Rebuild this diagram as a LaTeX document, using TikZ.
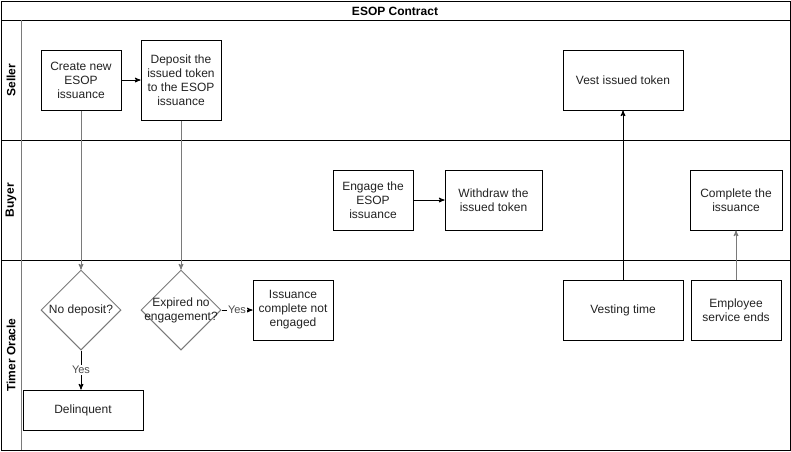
\documentclass[tikz,border=0pt]{standalone}
\usepackage{fontspec}
\setmainfont{Liberation Sans}
\usetikzlibrary{arrows}
\usetikzlibrary{shapes.geometric}
\definecolor{edgegray}{HTML}{7A7A7A}
\definecolor{textgray}{HTML}{222222}

\begin{document}
\begin{tikzpicture}[x=1pt, y=-1pt, line width=1pt,
  font=\fontsize{12}{14}\selectfont,
  stepbox/.style={draw=black, align=center, inner sep=0pt, text=textgray},
  decision/.style={draw=edgegray, diamond, aspect=1, minimum size=80, inner sep=0pt},
  flow/.style={->, >=stealth'},
  yeslabel/.style={fill=white, inner sep=1pt, font=\fontsize{11}{13}\selectfont, text=black!70}]
\useasboundingbox (0,0) rectangle (791,451);
% pool and lanes
\draw (1,1) rectangle (790,450);
\draw (1,20) -- (790,20);
\draw (1,140) -- (790,140);
\draw (1,260) -- (790,260);
\draw[edgegray] (21,20) -- (21,450);
\node[font=\bfseries\fontsize{12}{14}\selectfont] (title) at (395,11) {ESOP Contract};
\node[rotate=90, font=\bfseries\fontsize{12}{14}\selectfont] (seller) at (11,80) {Seller};
\node[rotate=90, font=\bfseries\fontsize{12}{14}\selectfont] (buyer) at (11,200) {Buyer};
\node[rotate=90, font=\bfseries\fontsize{12}{14}\selectfont] (oracle) at (11,355) {Timer Oracle};

% seller lane
\node[stepbox, minimum width=80, minimum height=60] (create) at (81,80) {Create new\\ESOP\\issuance};
\node[stepbox, minimum width=80, minimum height=80] (deposit) at (181,80) {Deposit the\\issued token\\to the ESOP\\issuance};
\node[stepbox, minimum width=120, minimum height=60] (vest) at (623,80) {Vest issued token};

% buyer lane
\node[stepbox, minimum width=80, minimum height=60] (engage) at (373,200) {Engage the\\ESOP\\issuance};
\node[stepbox, minimum width=97, minimum height=60] (withdraw) at (493.5,200) {Withdraw the\\issued token};
\node[stepbox, minimum width=92, minimum height=60] (complete) at (736,200) {Complete the\\issuance};

% timer oracle lane
\node[decision, label={[align=center, text=textgray]center:No deposit?}] (nodeposit) at (81,310) {};
\node[decision, label={[align=center, text=textgray]center:Expired no\\engagement?}] (expired) at (181,310) {};
\node[stepbox, minimum width=80, minimum height=60] (notengaged) at (293,310) {Issuance\\complete not\\engaged};
\node[stepbox, minimum width=120, minimum height=40] (delinquent) at (83,410) {Delinquent};
\node[stepbox, minimum width=120, minimum height=60] (vesting) at (623,310) {Vesting time};
\node[stepbox, minimum width=90, minimum height=60] (service) at (736,310) {Employee\\service ends};

% connectors
\draw[flow] (create) -- (deposit);
\draw[flow] (engage) -- (withdraw);
\draw[flow, edgegray] (create.south) -- (nodeposit.north);
\draw[flow, edgegray] (deposit.south) -- (expired.north);
\draw[flow] (nodeposit.south) -- (nodeposit.south |- delinquent.north) node[yeslabel, midway] {Yes};
\draw[flow] (expired.east) -- (notengaged.west) node[yeslabel, midway] {Yes};
\draw[flow] (vesting.north) -- (vest.south);
\draw[flow, edgegray] (service.north) -- (complete.south);
\end{tikzpicture}
\end{document}
